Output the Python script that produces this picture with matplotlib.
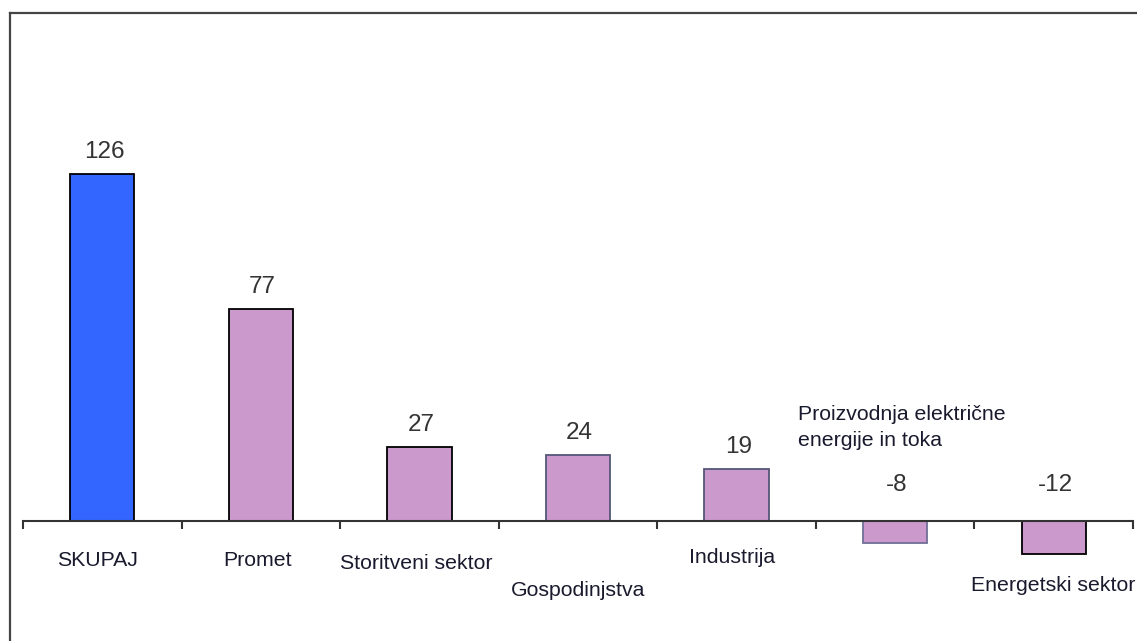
import matplotlib.pyplot as plt
import numpy as np

# Emission changes by sector
categories = ['SKUPAJ', 'Promet', 'Storitveni sektor', 'Gospodinjstva',
              'Industrija', 'Proizvodnja električne\nenergije in toka',
              'Energetski sektor']
values = [126, 77, 27, 24, 19, -8, -12]

# where each category name sits (x offset from bar centre, y in data units)
label_dx = [-0.03, -0.02, -0.02, 0.0, -0.03, -0.61, -0.52]
label_y = [-14.5, -14.5, -15.3, -25.1, -13.1, 34.0, -23.6]
label_ha = ['center', 'center', 'center', 'center', 'center', 'left', 'left']

plt.rcParams['font.family'] = ['Liberation Sans', 'DejaVu Sans']

fig = plt.figure(figsize=(11.37, 6.41), dpi=100)
# axes frame: left and top edges visible, right/bottom run off the page
ax = fig.add_axes([10 / 1137, 0, 1127 / 1137, (641 - 13) / 641])

x = np.arange(len(values))
colors = ['#3366FF'] + ['#CC99CC'] * (len(values) - 1)
edges = ['black', 'black', 'black', '#55557a', '#55557a', '#6f6f99', 'black']
ax.bar(x, values, width=0.405, color=colors, edgecolor=edges, linewidth=1.3,
       zorder=2)

# value labels
for xi, v in zip(x, values):
    y = v + 8 if v > 0 else 13
    ax.text(xi + 0.01, y, str(v), ha='center', va='center', fontsize=17.5,
            color='#333333')

# category names
for xi, name, dx, ly, ha in zip(x, categories, label_dx, label_y, label_ha):
    ax.text(xi + dx, ly, name, ha=ha, va='center', fontsize=15.3,
            color='#1a1a2e', linespacing=1.45)

# zero line with category separator ticks
ax.set_xticks(np.arange(-0.5, len(values), 1.0))
ax.set_xticklabels([])
ax.spines['bottom'].set_position(('data', 0))
ax.spines['bottom'].set_bounds(-0.5, len(values) - 0.5)
ax.spines['bottom'].set_color('#333333')
ax.spines['bottom'].set_linewidth(1.5)
ax.spines['bottom'].set_zorder(3)
ax.tick_params(axis='x', direction='out', length=6, width=1.5,
               color='#333333')
ax.set_yticks([])

ax.spines['right'].set_visible(False)
for s in ('left', 'top'):
    ax.spines[s].set_color('#444444')
    ax.spines[s].set_linewidth(1.6)

ax.set_xlim(-0.582, 6.525)
ax.set_ylim(-43.6, 184.5)

fig.savefig('out.png', dpi=100)
